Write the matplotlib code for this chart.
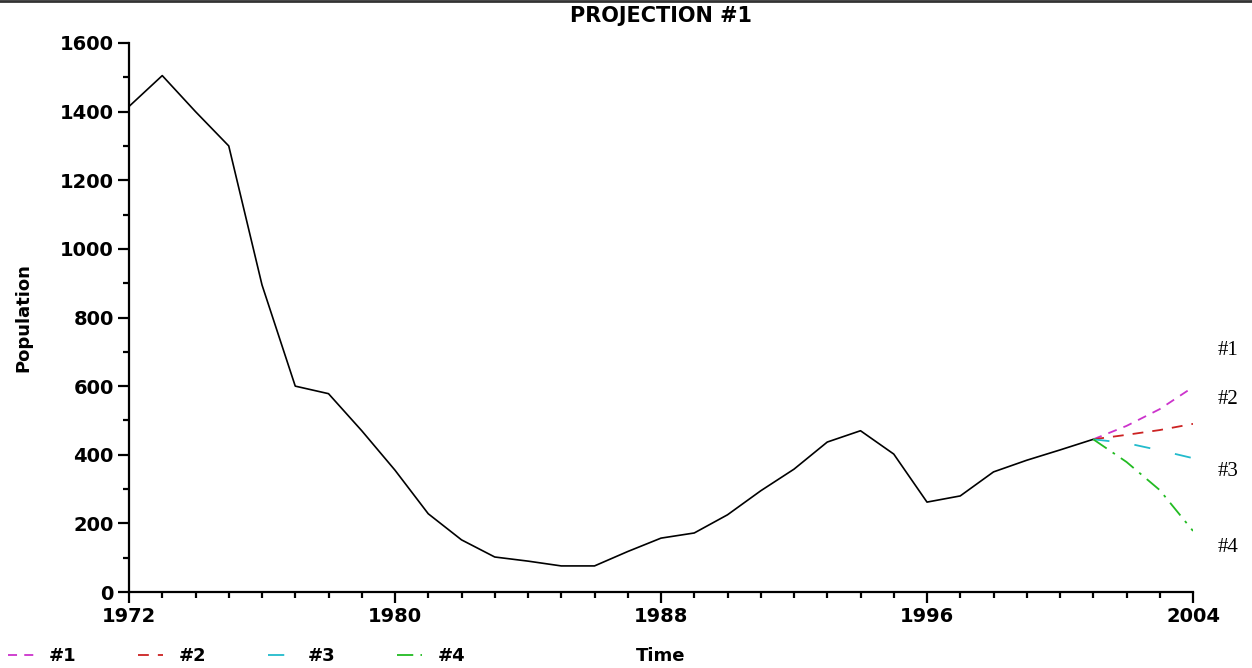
import matplotlib
matplotlib.use("Agg")
import matplotlib.pyplot as plt
from matplotlib.lines import Line2D
from matplotlib.ticker import MultipleLocator

# observed population, 1972-2001
years = list(range(1972, 2002))
population = [1415, 1505, 1400, 1300, 895, 600, 578, 470, 355, 228,
              152, 102, 90, 76, 76, 118, 157, 172, 225, 295,
              358, 437, 470, 402, 262, 280, 350, 384, 414, 445]

# projections 2001-2004
proj_years = [2001, 2002, 2003, 2004]
proj_1 = [445, 484, 533, 597]
proj_2 = [445, 458, 472, 490]
proj_3 = [445, 434, 413, 390]
proj_4 = [445, 379, 297, 178]
proj_labels = ['#1', '#2', '#3', '#4']

x_ticks = [1972, 1980, 1988, 1996, 2004]

font = {'family': 'DejaVu Sans', 'weight': 'bold', 'size': 13}

fig = plt.figure(figsize=(12.52, 6.68), dpi=100)
ax = fig.add_axes([129/1252, 76/668, 1064/1252, 549/668])

ax.plot(years, population, color='black', lw=1.2)
l1, = ax.plot(proj_years, proj_1, color='#cc33cc', lw=1.3, dashes=(5, 4))
l2, = ax.plot(proj_years, proj_2, color='#cc2222', lw=1.3, dashes=(6, 5))
l3, = ax.plot(proj_years, proj_3, color='#22bbcc', lw=1.3, dashes=(9, 14))
l4, = ax.plot(proj_years, proj_4, color='#22bb22', lw=1.3, dashes=(9, 4, 1.5, 4))

ax.set_xlim(1972, 2004)
ax.set_ylim(0, 1600)
ax.set_xticks(x_ticks)
ax.xaxis.set_minor_locator(MultipleLocator(1))
ax.yaxis.set_major_locator(MultipleLocator(200))
ax.yaxis.set_minor_locator(MultipleLocator(100))
ax.spines['top'].set_visible(False)
ax.spines['right'].set_visible(False)
for s in ['left', 'bottom']:
    ax.spines[s].set_linewidth(1.6)
ax.tick_params(which='major', length=8, width=1.6, pad=3)
ax.tick_params(which='minor', length=4, width=1.6)
for lab in ax.get_xticklabels() + ax.get_yticklabels():
    lab.set_fontproperties(font)
    lab.set_fontsize(14)

ax.set_title('PROJECTION #1', fontdict=font, fontsize=15, pad=15)
ax.set_ylabel('Population', fontdict=font, labelpad=20)
ax.set_xlabel('Time', fontdict=font, labelpad=15)

fig.legend([l1, l2, l3, l4], proj_labels, loc='lower left',
           bbox_to_anchor=(-0.0064, -0.02), ncol=4, frameon=False,
           prop=font, handlelength=1.4, columnspacing=3.4, handletextpad=0.85)

# labels to the right of the projection ends
label_y = [351, 399, 472, 547]
for lab, py in zip(proj_labels, label_y):
    fig.text(1218/1252, 1 - py/668, lab, family='Liberation Serif',
             fontsize=15, va='center', ha='left')

fig.add_artist(Line2D([0, 1], [0.998, 0.998], transform=fig.transFigure,
                      color='#333333', lw=2))

fig.savefig('out.png', dpi=100)
